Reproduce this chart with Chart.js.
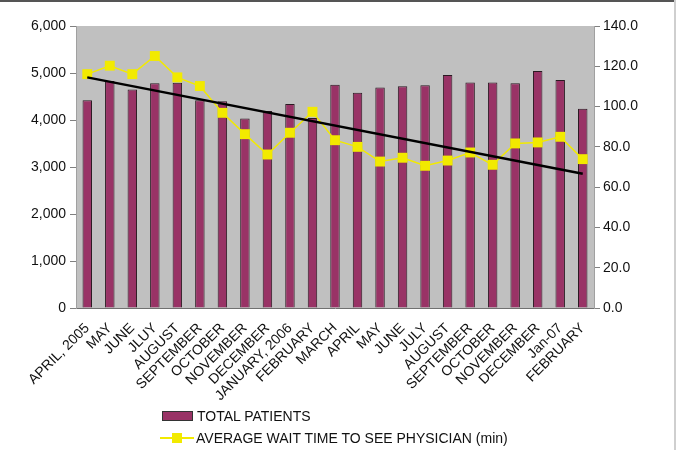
<!DOCTYPE html>
<html>
<head>
<meta charset="utf-8">
<script src="https://cdn.jsdelivr.net/npm/chart.js@4.4.1/dist/chart.umd.min.js"></script>
<style>
  html, body { margin: 0; padding: 0; background: #fff; }
  #wrap { position: relative; width: 676px; height: 450px; overflow: hidden;
          font-family: "Liberation Sans", Arial, sans-serif; }
  #frameTop { position: absolute; left: 0; top: 0; width: 676px; height: 2px; background: #555; }
  #frameRight { position: absolute; right: 0; top: 0; width: 2px; height: 450px; background: #cfcfcf; }
  #legend { position: absolute; left: 160px; top: 405px; font-size: 14px; color: #111; line-height: 22px; }
  .row { display: flex; align-items: center; height: 22px; }
  .box { width: 29px; height: 8px; background: #993366; border: 1px solid #333; margin: 0 4px 0 2px; }
  .lineKey { position: relative; width: 34px; height: 10px; margin-right: 2px; }
  .lineKey::before { content: ""; position: absolute; left: 0; right: 0; top: 4px; height: 2px; background: #f2ea00; }
  .lineKey::after { content: ""; position: absolute; left: 12px; top: 0; width: 10px; height: 10px; background: #f2ea00; }
</style>
</head>
<body>
<div id="wrap">
  <canvas id="c" width="676" height="450"></canvas>
  <div id="frameTop"></div>
  <div id="frameRight"></div>
  <div id="legend">
    <div class="row"><span class="box"></span>TOTAL PATIENTS</div>
    <div class="row"><span class="lineKey"></span>AVERAGE WAIT TIME TO SEE PHYSICIAN (min)</div>
  </div>
</div>
<script>
// Months covered, April 2005 through February 2007
const months = [
  "APRIL, 2005", "MAY", "JUNE", "JLUY", "AUGUST", "SEPTEMBER", "OCTOBER",
  "NOVEMBER", "DECEMBER", "JANUARY, 2006", "FEBRUARY", "MARCH", "APRIL",
  "MAY", "JUNE", "JULY", "AUGUST", "SEPTEMBER", "OCTOBER", "NOVEMBER",
  "DECEMBER", "Jan-07", "FEBRUARY"
];

// Total patients seen each month (left axis)
const totalPatients = [
  4420, 4830, 4650, 4780, 4790, 4420, 4400, 4030, 4190, 4340, 4040, 4750,
  4580, 4690, 4720, 4740, 4960, 4800, 4800, 4780, 5040, 4850, 4240
];

// Average wait time to see a physician, minutes (right axis)
const waitMinutes = [
  116.1, 120.3, 116.1, 125.1, 114.5, 110.2, 96.9, 86.3, 76.2, 87.0, 97.4, 83.3,
  80.0, 72.7, 74.6, 70.6, 73.2, 77.2, 71.1, 81.7, 82.2, 85.0, 73.9
];

// Linear trend of the wait time: value at the first and last month
const trendStart = 114.5;
const trendEnd = 66.6;

const patientTicks = [0, 1000, 2000, 3000, 4000, 5000, 6000];
const waitTicks = [0, 20, 40, 60, 80, 100, 120, 140];

const trendData = months.map((_, i) =>
  i === 0 ? trendStart : (i === months.length - 1 ? trendEnd : null));

const plotBackground = {
  id: "plotBackground",
  beforeDraw(chart) {
    const { ctx, chartArea: a } = chart;
    ctx.save();
    ctx.fillStyle = "#c0c0c0";
    ctx.fillRect(a.left, a.top, a.right - a.left, a.bottom - a.top);
    ctx.restore();
  }
};

const tickFont = { family: "'Liberation Sans', Arial, sans-serif", size: 14 };

new Chart(document.getElementById("c"), {
  data: {
    labels: months,
    datasets: [
      {
        type: "line",
        label: "Trend",
        data: trendData,
        yAxisID: "y1",
        borderColor: "#000",
        borderWidth: 2.5,
        pointRadius: 0,
        spanGaps: true,
        order: 0
      },
      {
        type: "line",
        label: "AVERAGE WAIT TIME TO SEE PHYSICIAN (min)",
        data: waitMinutes,
        yAxisID: "y1",
        borderColor: "#f2ea00",
        borderWidth: 1.5,
        pointStyle: "rect",
        pointRadius: 7,
        pointBackgroundColor: "#f2ea00",
        pointBorderColor: "#f2ea00",
        pointBorderWidth: 0,
        tension: 0,
        order: 1
      },
      {
        type: "bar",
        label: "TOTAL PATIENTS",
        data: totalPatients,
        yAxisID: "y",
        backgroundColor: "#993366",
        borderColor: "#2a1a22",
        borderWidth: 1,
        barPercentage: 0.42,
        categoryPercentage: 1.0,
        order: 2
      }
    ]
  },
  options: {
    responsive: false,
    animation: false,
    layout: { padding: { top: 26, left: 0, right: 0, bottom: 0 } },
    plugins: { legend: { display: false }, tooltip: { enabled: false } },
    scales: {
      x: {
        grid: { display: false },
        border: { display: true, color: "#707070", width: 1 },
        ticks: {
          autoSkip: false, minRotation: 45, maxRotation: 45,
          color: "#111", font: tickFont, padding: 4
        },
        afterFit(s) { s.height = 142; }
      },
      y: {
        position: "left",
        min: 0, max: 6000,
        afterBuildTicks(s) { s.ticks = patientTicks.map(v => ({ value: v })); },
        grid: { drawOnChartArea: false, drawTicks: true, tickLength: 6, color: "#808080" },
        border: { display: true, color: "#a0a0a0" },
        ticks: {
          color: "#111", font: tickFont, padding: 4,
          callback: v => v.toLocaleString("en-US")
        },
        afterFit(s) { s.width = 76; }
      },
      y1: {
        position: "right",
        min: 0, max: 140,
        afterBuildTicks(s) { s.ticks = waitTicks.map(v => ({ value: v })); },
        grid: { drawOnChartArea: false, drawTicks: true, tickLength: 6, color: "#808080" },
        border: { display: true, color: "#a0a0a0" },
        ticks: {
          color: "#111", font: tickFont, padding: 3,
          callback: v => Number(v).toFixed(1)
        },
        afterFit(s) { s.width = 82; }
      }
    }
  },
  plugins: [plotBackground]
});
</script>
</body>
</html>
